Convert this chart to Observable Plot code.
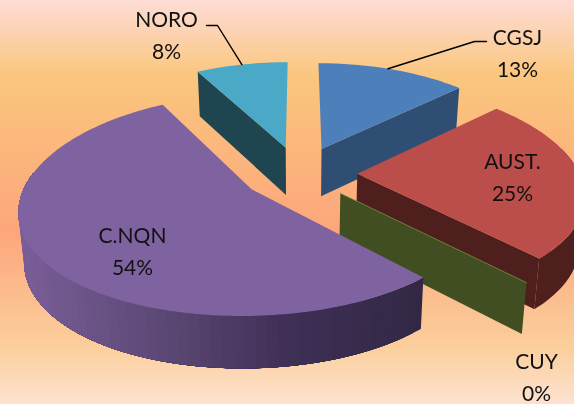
<!DOCTYPE html>
<html><head><meta charset="utf-8">
<style>
html,body{margin:0;padding:0;width:574px;height:404px;overflow:hidden;background:linear-gradient(180deg,#fedcd6 0%,#fac67d 19%,#fda67c 57%,#fbcf9c 86%,#fde2d0 100%)}
svg{display:block;filter:blur(0.45px)}
</style>
<script src="https://cdn.jsdelivr.net/npm/d3@7"></script>
<script src="https://cdn.jsdelivr.net/npm/@observablehq/plot@0.6"></script>
</head><body><div id="chart"></div>
<script>
// data
const categories = ["CGSJ","AUST.","CUY","C.NQN","NORO"];
const values = [13,25,0,54,8];
// styles
const topColors = ["#4d80bb","#bb4d4a","#7f9f45","#7f62a0","#4aa9c6"];
const wallColors = ["#2f4e74","#4f1f1e","#404e22","#332a48","#1f4650"];
const rimStops = [[18,"#7a5e99"],[170,"#5a4672"],[290,"#3e2f55"],[424,"#322844"]];
// layout
const W = 574, H = 404;
const view = {cx:299, cy:172.5, k:222, m:104, px:0.17, p:0.14, depth:48, shrink:0.98, explode:0.26};
const labelPos = [[517,38,70],[512,162,194],[536,362,394],[132,236,268],[166,20,52]];
const leaderElbows = {CGSJ:[[486,41],[474,41]], NORO:[[206,25],[217,25]]};
const leaderTurn = {CGSJ:0.47, NORO:0.5};

const total = d3.sum(values);
let acc = 0;
const slices = categories.map((name,i)=>{
  const a0 = acc/total*2*Math.PI; acc += values[i];
  const a1 = acc/total*2*Math.PI;
  const mid = (a0+a1)/2;
  return {name,value:values[i],a0,a1,mid,top:topColors[i],wall:wallColors[i]};
});
function project(X,Y,low){
  const w = 1+view.p*Y;
  let x = view.k*X/(1+view.px*Y), y = -view.m*Y/w;
  if(low){ x *= view.shrink; y += view.depth/Math.sqrt(w); }
  return [view.cx+x, view.cy+y];
}
const pt = (s,r,a,low)=>project(view.explode*Math.sin(s.mid)+r*Math.sin(a), view.explode*Math.cos(s.mid)+r*Math.cos(a), low);
const arc = (s,a0,a1,low)=>{
  const n = Math.max(1,Math.ceil(Math.abs(a1-a0)/0.02));
  return d3.range(n+1).map(i=>pt(s,1,a0+(a1-a0)*i/n,low));
};
const polys = [];
let id = 0;
const add = (points,color)=>{ const k=id++; points.forEach(p=>polys.push({id:k,x:p[0],y:p[1],color})); };
const wallAt = (s,a)=>[pt(s,0,a,false),pt(s,1,a,false),pt(s,1,a,true),pt(s,0,a,true)];
const rimColor = d3.scaleLinear().domain(rimStops.map(d=>d[0])).range(rimStops.map(d=>d[1])).clamp(true);
const [cgsj,aust,cuy,cnqn,noro] = slices;

// painter's order, far to near
add(wallAt(noro,noro.a0),noro.wall);
add([pt(noro,0,0,false),...arc(noro,noro.a0,noro.a1,false)],noro.top);
add(wallAt(cgsj,cgsj.a1),cgsj.wall);
add([pt(cgsj,0,0,false),...arc(cgsj,cgsj.a0,cgsj.a1,false)],cgsj.top);
add([...arc(aust,Math.PI*0.42,aust.a1,false),...arc(aust,aust.a1,Math.PI*0.42,true)],aust.wall);
add(wallAt(aust,aust.a1),aust.wall);
add([pt(aust,0,0,false),...arc(aust,aust.a0,aust.a1,false)],aust.top);
add(wallAt(cuy,cuy.a0),cuy.wall);
// near rim of C.NQN: overlapping bands, each repainting the rest of the rim, so it shades without seams
const rimEnd = Math.PI*1.55, rimN = 60;
d3.range(rimN).forEach(i=>{
  const a = cnqn.a0+(rimEnd-cnqn.a0)*i/rimN;
  const upper = arc(cnqn,a,rimEnd,false), lower = arc(cnqn,rimEnd,a,true);
  add([...upper,...lower],rimColor(pt(cnqn,1,a+(rimEnd-cnqn.a0)/rimN/2,false)[0]));
});
add([pt(cnqn,0,0,false),...arc(cnqn,cnqn.a0,cnqn.a1,false)],cnqn.top);

const highlight = [pt(cuy,0,cuy.a0,false),pt(cuy,1,cuy.a0,false)].map(p=>({x:p[0],y:p[1]}));

function leader(s){
  const a = s.a0+(s.a1-s.a0)*leaderTurn[s.name];
  const e = leaderElbows[s.name];
  return [...e,pt(s,1,a,false)].map(p=>({x:p[0],y:p[1],name:s.name}));
}
const leaders = [...leader(cgsj),...leader(noro)];

const labels = slices.flatMap((s,i)=>[
  {x:labelPos[i][0],y:labelPos[i][1],t:s.name},
  {x:labelPos[i][0],y:labelPos[i][2],t:`${s.value}%`}
]);

const chart = Plot.plot({
  width:W,height:H,margin:0,
  x:{domain:[0,W],range:[0,W],axis:null},
  y:{domain:[0,H],range:[0,H],axis:null},
  style:{background:"transparent"},
  marks:[
    Plot.line(polys,{x:"x",y:"y",z:"id",fill:"color",stroke:"none",curve:"linear-closed"}),
    Plot.line(highlight,{x:"x",y:"y",stroke:cuy.top,strokeWidth:0.7}),
    Plot.line(leaders,{x:"x",y:"y",z:"name",stroke:"#000",strokeWidth:1.4}),
    Plot.text(labels,{x:"x",y:"y",text:"t",fontFamily:"Lato",fontSize:21,fill:"#111"})
  ]
});
document.getElementById("chart").appendChild(chart);
</script></body></html>
